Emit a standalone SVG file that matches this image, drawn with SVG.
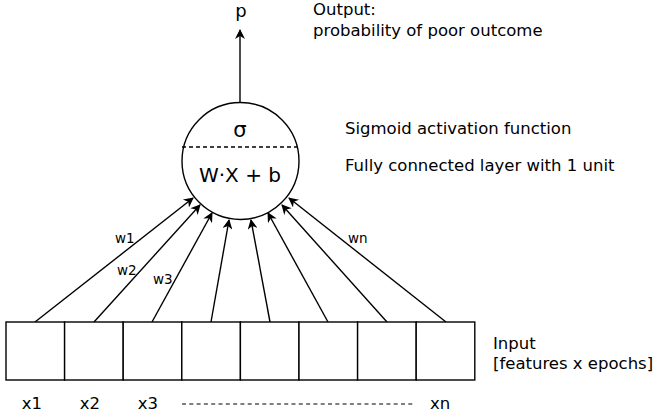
<svg xmlns="http://www.w3.org/2000/svg" width="656" height="417" viewBox="0 0 656 417">
<style>
text{font-family:"DejaVu Sans","Verdana",sans-serif;fill:#000;}
.t14{font-size:16.5px;}
.t12{font-size:13.5px;}
.ln{stroke:#000;stroke-width:1.4;fill:none;}
.box{stroke:#000;stroke-width:1.4;fill:#fff;}
</style>
<defs>
<marker id="arr" viewBox="0 0 10 10" refX="9" refY="5" markerWidth="12" markerHeight="10" markerUnits="userSpaceOnUse" orient="auto">
<path d="M0,0 L10,5 L0,10 L3,5 z" fill="#000"/>
</marker>
</defs>
<g id="connectors">
<line class="ln" x1="240" y1="103" x2="240" y2="30" marker-end="url(#arr)"/>
<line class="ln" x1="35" y1="322" x2="193" y2="198" marker-end="url(#arr)"/>
<line class="ln" x1="94" y1="322" x2="200" y2="205" marker-end="url(#arr)"/>
<line class="ln" x1="152" y1="322" x2="212" y2="213" marker-end="url(#arr)"/>
<line class="ln" x1="211" y1="322" x2="229" y2="220" marker-end="url(#arr)"/>
<line class="ln" x1="270" y1="322" x2="251" y2="220" marker-end="url(#arr)"/>
<line class="ln" x1="328" y1="322" x2="268" y2="213" marker-end="url(#arr)"/>
<line class="ln" x1="387" y1="322" x2="282" y2="205" marker-end="url(#arr)"/>
<line class="ln" x1="446" y1="322" x2="289" y2="198" marker-end="url(#arr)"/>
<text class="t12" x="115" y="243">w1</text>
<text class="t12" x="117" y="275">w2</text>
<text class="t12" x="153" y="284">w3</text>
<text class="t12" x="348" y="243">wn</text>
</g>
<g id="neuron">
<circle cx="240.5" cy="161" r="58.5" fill="#fff" stroke="#000" stroke-width="1.4"/>
<line x1="182" y1="147" x2="299" y2="147" stroke="#000" stroke-width="1.3" stroke-dasharray="4 3"/>
<text x="240" y="137" font-size="21" text-anchor="middle">σ</text>
<text x="240" y="182" font-size="20" text-anchor="middle">W·X + b</text>
</g>
<g id="output">
<text x="241" y="17" font-size="18" text-anchor="middle">p</text>
<text class="t14" x="313" y="15">Output:</text>
<text class="t14" x="313" y="36">probability of poor outcome</text>
</g>
<g id="labels">
<text class="t14" x="345" y="134">Sigmoid activation function</text>
<text class="t14" x="345" y="171">Fully connected layer with 1 unit</text>
</g>
<g id="input">
<rect class="box" x="6" y="322" width="58.6" height="58"/>
<rect class="box" x="64.6" y="322" width="58.6" height="58"/>
<rect class="box" x="123.2" y="322" width="58.6" height="58"/>
<rect class="box" x="181.8" y="322" width="58.6" height="58"/>
<rect class="box" x="240.4" y="322" width="58.6" height="58"/>
<rect class="box" x="299" y="322" width="58.6" height="58"/>
<rect class="box" x="357.6" y="322" width="58.6" height="58"/>
<rect class="box" x="416.2" y="322" width="58.6" height="58"/>
<text class="t14" x="493" y="349">Input</text>
<text class="t14" x="493" y="369">[features x epochs]</text>
<text class="t14" x="32" y="409" text-anchor="middle">x1</text>
<text class="t14" x="90" y="409" text-anchor="middle">x2</text>
<text class="t14" x="148" y="409" text-anchor="middle">x3</text>
<line x1="182" y1="404" x2="413" y2="404" stroke="#000" stroke-width="1.2" stroke-dasharray="4 3.3"/>
<text class="t14" x="440" y="409" text-anchor="middle">xn</text>
</g>
</svg>
